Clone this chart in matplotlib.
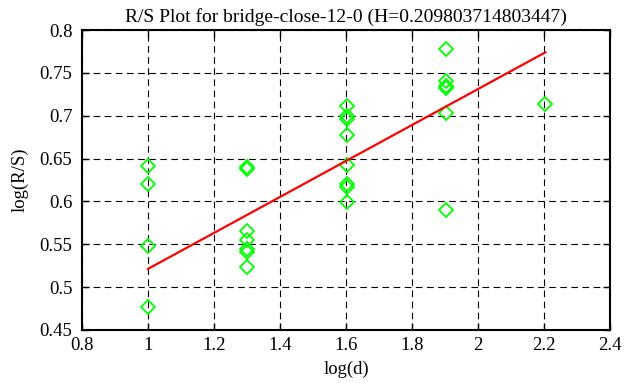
import numpy as np
import matplotlib
matplotlib.use('Agg')
import matplotlib.pyplot as plt

# data
log_d = [1.0] * 4 + [1.301] * 7 + [1.602] * 8 + [1.903] * 6 + [2.204]
log_rs = [0.641, 0.620, 0.548, 0.477,
          0.638, 0.640, 0.566, 0.555, 0.545, 0.541, 0.524,
          0.711, 0.700, 0.696, 0.677, 0.643, 0.620, 0.617, 0.599,
          0.778, 0.741, 0.735, 0.732, 0.703, 0.590,
          0.714]
hurst = 0.209803714803447
intercept = 0.3115
fit_x = [1.0, 2.204]

plt.rcParams['font.family'] = ['Liberation Serif', 'DejaVu Serif']

fig = plt.figure(figsize=(6.26, 3.87), dpi=100)
ax = fig.add_axes([82 / 626, 57 / 387, 528 / 626, 300 / 387])

ax.plot(log_d, log_rs, linestyle='none', marker='D', markersize=7.5,
        markerfacecolor='none', markeredgecolor='#00ff00', markeredgewidth=1.3)
fx = np.array(fit_x)
ax.plot(fx, hurst * fx + intercept, color='red', linewidth=1.6)

ax.set_xlim(0.8, 2.4)
ax.set_ylim(0.45, 0.8)
ax.set_xticks(np.arange(0.8, 2.41, 0.2))
ax.set_yticks(np.arange(0.45, 0.801, 0.05))
ax.set_xticklabels(['0.8', '1', '1.2', '1.4', '1.6', '1.8', '2', '2.2', '2.4'])
ax.set_yticklabels(['0.45', '0.5', '0.55', '0.6', '0.65', '0.7', '0.75', '0.8'])
ax.grid(True, color='black', linestyle=(0, (6, 4)), linewidth=0.8)
ax.tick_params(direction='in', top=True, right=True, length=5, width=1, labelsize=13.5)
ax.tick_params(axis='x', pad=5)
ax.tick_params(axis='y', pad=7)
for s in ax.spines.values():
    s.set_linewidth(1.5)

ax.set_xlabel('log(d)', fontsize=13.5, labelpad=5)
ax.set_ylabel('log(R/S)', fontsize=13.5, labelpad=8)
ax.set_title('R/S Plot for bridge-close-12-0 (H=%s)' % repr(hurst), fontsize=14, pad=6)

fig.savefig('out.png', dpi=100)
